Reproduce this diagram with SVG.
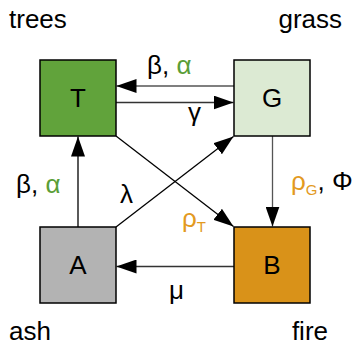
<svg xmlns="http://www.w3.org/2000/svg" width="354" height="346" viewBox="0 0 354 346">
<style>
.box{stroke:#000;stroke-width:1.5}
.lbl{font-family:"Liberation Sans",Arial,sans-serif;font-size:26px;fill:#000}
.nm{font-family:"Liberation Sans",Arial,sans-serif;font-size:26px;fill:#000;text-anchor:middle}
.e{stroke-width:1.3;fill:none}
.g{fill:#5a9e37}
.o{fill:#e39a1f}
</style>
<defs>
<marker id="ah" markerUnits="userSpaceOnUse" markerWidth="20" markerHeight="14" refX="20" refY="7" orient="auto" viewBox="0 0 20 14">
<path d="M0,0 L20,7 L0,14 z" fill="#000"/>
</marker>
</defs>
<rect width="354" height="346" fill="#fff"/>
<g id="edges">
<line class="e" x1="234" y1="86" x2="116.5" y2="86" stroke="#555" marker-end="url(#ah)"/>
<line class="e" x1="116" y1="102.5" x2="233.5" y2="102.5" stroke="#333" marker-end="url(#ah)"/>
<line class="e" x1="78" y1="227" x2="78" y2="136.5" stroke="#000" marker-end="url(#ah)"/>
<line class="e" x1="116" y1="227" x2="233.5" y2="136.5" stroke="#000" marker-end="url(#ah)"/>
<line class="e" x1="116" y1="136" x2="233.5" y2="226.5" stroke="#000" marker-end="url(#ah)"/>
<line class="e" x1="272.5" y1="136" x2="272.5" y2="226.5" stroke="#555" marker-end="url(#ah)"/>
<line class="e" x1="234" y1="266.5" x2="116.5" y2="266.5" stroke="#333" marker-end="url(#ah)"/>
</g>
<g id="labels">
<text class="lbl" x="147" y="74">β, <tspan class="g">α</tspan></text>
<text class="lbl" x="188" y="121">γ</text>
<text class="lbl" x="16" y="193">β, <tspan class="g">α</tspan></text>
<text class="lbl" x="120" y="203">λ</text>
<text class="lbl" x="291" y="190"><tspan class="o">ρ</tspan><tspan class="o" font-size="15" dy="5">G</tspan><tspan dy="-5">, Φ</tspan></text>
<text class="lbl" x="182" y="227"><tspan class="o">ρ</tspan><tspan class="o" font-size="15" dy="5">T</tspan></text>
<text class="lbl" x="169" y="299">μ</text>
<text class="lbl" x="9" y="28">trees</text>
<text class="lbl" x="342" y="28" text-anchor="end">grass</text>
<text class="lbl" x="9" y="340">ash</text>
<text class="lbl" x="328" y="340" text-anchor="end">fire</text>
</g>
<g id="node-T"><rect class="box" x="40" y="60" width="76" height="76" fill="#61a33b"/><text class="nm" x="78" y="107">T</text></g>
<g id="node-G"><rect class="box" x="234" y="60" width="76" height="76" fill="#dcead3"/><text class="nm" x="272" y="107">G</text></g>
<g id="node-A"><rect class="box" x="40" y="227" width="76" height="76" fill="#b3b3b3"/><text class="nm" x="78" y="274">A</text></g>
<g id="node-B"><rect class="box" x="234" y="227" width="76" height="76" fill="#d99219"/><text class="nm" x="272" y="274">B</text></g>
</svg>
